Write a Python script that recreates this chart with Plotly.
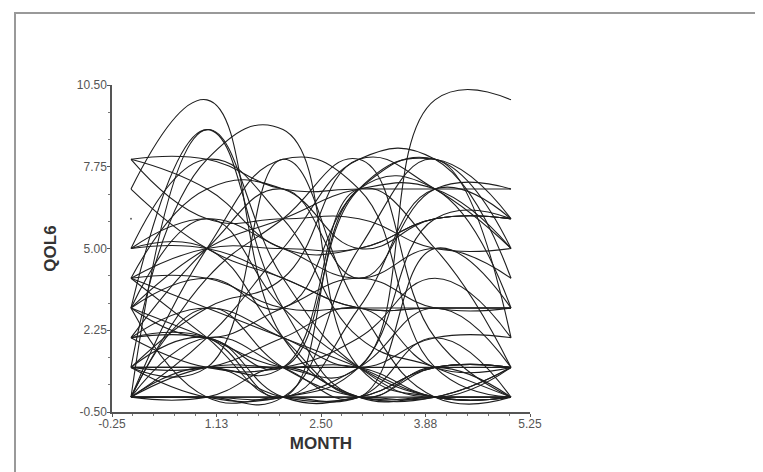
import plotly.graph_objects as go

months = [0, 1, 2, 3, 4, 5]

# QOL6 score per subject at months 0..5 (None = not observed)
subjects = [
    [7, 10, 2, 0, 0, 0],
    [3, 9, 3, 0, 1, 0],
    [0, 9, 4, 1, 0, 1],
    [1, 8, 9, 1, 0, 0],
    [3, 2, 1, 1, 10, 10],
    [8, 8, 7, 7, 7, 7],
    [8, 7, 5, 5, 6, 6],
    [7, 5, 4, 3, 3, 3],
    [5, 5, 4, 3, 3, 3],
    [5, 5, 2, 0, 1, 1],
    [4, 7, 7, 5, 6, 6],
    [4, 5, 5, 5, 6, 6],
    [3, 5, 6, 7, 7, 5],
    [3, 6, 3, 1, 0, 0],
    [2, 2, 1, 7, 8, 6],
    [2, 2, 0, 7, 7, 3],
    [2, 3, 2, 1, 2, 2],
    [1, 1, 1, 1, 1, 1],
    [1, 2, 0, 0, 1, 1],
    [1, 3, 4, 8, 7, 5],
    [1, 1, 8, 3, 0, 0],
    [1, 0, 0, 1, 3, 1],
    [0, 0, 0, 0, 0, 0],
    [0, 1, 0, 0, 1, 1],
    [0, 4, 6, 8, 2, 0],
    [0, 2, 5, 8, 8, 4],
    [0, 0, 1, 0, 0, 0],
    [0, 1, 1, 1, 0, 0],
    [0, 0, 0, 5, 8, 2],
    [0, 3, 1, 0, 0, 1],
    [0, 5, 8, 7, 1, 0],
    [0, 0, 0, 0, 2, 0],
    [3, 2, 3, 4, 3, 3],
    [4, 3, 2, 1, 0, 0],
    [5, 8, 6, 2, 1, 0],
    [8, 6, 6, 6, 5, 5],
    [2, 1, 1, 2, 4, 2],
    [1, 1, 2, 3, 1, 1],
    [3, 4, 3, 7, 8, 5],
    [4, 2, 0, 3, 7, 6],
    [0, 2, 1, 0, 5, 3],
    [2, 5, 7, 4, 7, 7],
    [1, 1, 1, 7, 5, 1],
    [6, None, None, None, None, None],
    [0, 0, 0, 1, 6, 6],
    [3, 0, 0, 0, 0, 1],
    [4, 4, 3, 3, 3, 3],
    [5, 6, 5, 4, 5, 4],
]

x_tickvals = [-0.25, 1.125, 2.5, 3.875, 5.25]
x_ticktext = ["-0.25", "1.13", "2.50", "3.88", "5.25"]
y_tickvals = [-0.5, 2.25, 5.0, 7.75, 10.5]
y_ticktext = ["-0.50", "2.25", "5.00", "7.75", "10.50"]

fig = go.Figure()
for vals in subjects:
    xs = [m for m, v in zip(months, vals) if v is not None]
    ys = [v for v in vals if v is not None]
    if len(ys) == 1:
        fig.add_trace(go.Scatter(x=xs, y=ys, mode="markers",
                                 marker=dict(size=2, color="#666"),
                                 showlegend=False, hoverinfo="skip"))
    else:
        fig.add_trace(go.Scatter(x=xs, y=ys, mode="lines",
                                 line=dict(shape="spline", smoothing=1.3,
                                           color="#1e1e1e", width=1.1),
                                 showlegend=False, hoverinfo="skip"))

axis_font = dict(family="Liberation Sans, Arial, sans-serif", size=12, color="#555")
title_font = dict(family="Liberation Sans, Arial, sans-serif", size=17, color="#333")

fig.update_layout(
    width=763, height=472,
    paper_bgcolor="white", plot_bgcolor="white",
    margin=dict(l=104, r=241, t=77, b=68),
    xaxis=dict(range=[-0.25, 5.25], tickvals=x_tickvals, ticktext=x_ticktext,
               showgrid=False, zeroline=False, showline=True, linecolor="#555",
               linewidth=1.5, ticks="outside", ticklen=3, tickcolor="#555",
               tickfont=axis_font, ticklabelstandoff=-3,
               minor=dict(tickmode="linear", tick0=-0.25, dtick=0.275,
                          ticks="outside", ticklen=2, tickcolor="#777"),
               title=dict(text="<b>MONTH</b>", font=title_font, standoff=7)),
    yaxis=dict(range=[-0.5, 10.5], tickvals=y_tickvals, ticktext=y_ticktext,
               showgrid=False, zeroline=False, showline=True, linecolor="#555",
               linewidth=1.5, ticks="outside", ticklen=3, tickcolor="#555",
               tickfont=axis_font, ticklabelstandoff=-2,
               minor=dict(tickmode="linear", tick0=-0.5, dtick=11 / 12,
                          ticks="outside", ticklen=2, tickcolor="#777"),
               title=dict(text="<b>QOL6</b>", font=title_font, standoff=16)),
    shapes=[dict(type="rect", xref="paper", yref="paper",
                 x0=-97 / 418, x1=(762 - 104) / 418,
                 y0=-67 / 327, y1=1 + 72 / 327,
                 line=dict(color="#999", width=2))],
)

fig.write_html("out.html")
